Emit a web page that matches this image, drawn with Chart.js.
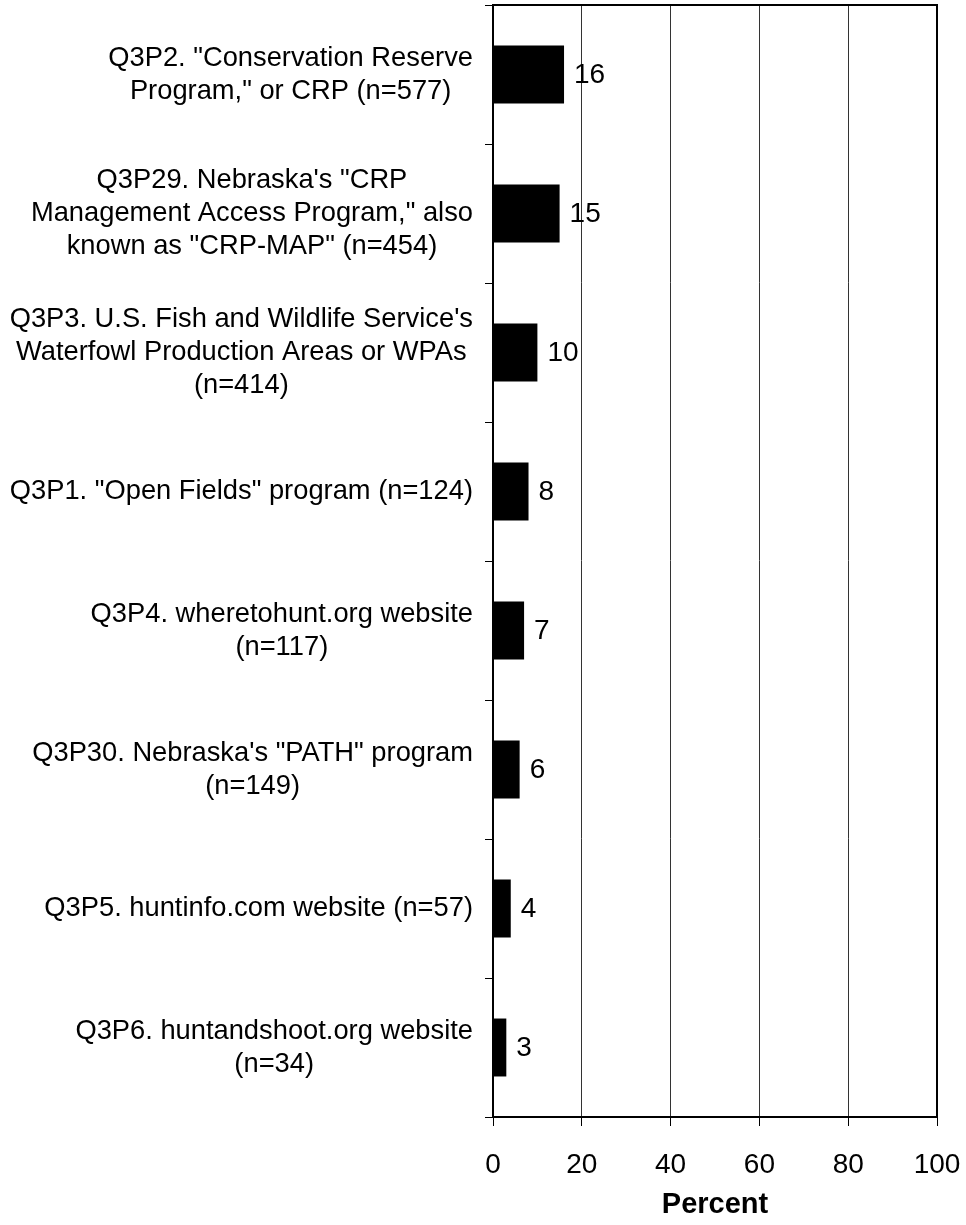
<!DOCTYPE html>
<html>
<head>
<meta charset="utf-8">
<script src="https://cdn.jsdelivr.net/npm/chart.js@4.4.0/dist/chart.umd.min.js"></script>
<style>
  body { margin: 0; background: #fff; }
  canvas { display: block; }
</style>
</head>
<body>
<canvas id="myChart" width="966" height="1225"></canvas>
<script>
// categorias (cada linea es un renglon de la etiqueta)
const categories = [
  ['Q3P2. "Conservation Reserve', 'Program," or CRP (n=577)'],
  ['Q3P29. Nebraska\'s "CRP', 'Management Access Program," also', 'known as "CRP-MAP" (n=454)'],
  ["Q3P3. U.S. Fish and Wildlife Service's", 'Waterfowl Production Areas or WPAs', '(n=414)'],
  ['Q3P1. "Open Fields" program (n=124)'],
  ['Q3P4. wheretohunt.org website', '(n=117)'],
  ['Q3P30. Nebraska\'s "PATH" program', '(n=149)'],
  ['Q3P5. huntinfo.com website (n=57)'],
  ['Q3P6. huntandshoot.org website', '(n=34)'],
];
const percents = [16, 15, 10, 8, 7, 6, 4, 3];
const xTicks = [0, 20, 40, 60, 80, 100];
const axisTitle = "Percent";

const fontFamily = "'Liberation Sans', Arial, sans-serif";

// etiquetas del eje y, centradas renglon por renglon
const categoryLabels = {
  id: "categoryLabels",
  afterDraw(chart) {
    const ctx = chart.ctx;
    const yScale = chart.scales.y;
    const right = chart.chartArea.left - 20;
    const lineH = 33;
    ctx.save();
    ctx.font = "27.3px " + fontFamily;
    ctx.fillStyle = "#000";
    ctx.textAlign = "center";
    ctx.textBaseline = "middle";
    categories.forEach((lines, i) => {
      const y = yScale.getPixelForValue(i);
      const w = Math.max(...lines.map((l) => ctx.measureText(l).width));
      const cx = right - w / 2;
      lines.forEach((l, j) => {
        ctx.fillText(l, cx, y + (j - (lines.length - 1) / 2) * lineH);
      });
    });
    ctx.restore();
  },
};

// valores al lado de cada barra
const valueLabels = {
  id: "valueLabels",
  afterDatasetsDraw(chart) {
    const ctx = chart.ctx;
    const meta = chart.getDatasetMeta(0);
    ctx.save();
    ctx.font = "28px " + fontFamily;
    ctx.fillStyle = "#000";
    ctx.textAlign = "left";
    ctx.textBaseline = "middle";
    meta.data.forEach((bar, i) => {
      ctx.fillText(String(percents[i]), bar.x + 10, bar.y + 1);
    });
    ctx.restore();
  },
};

// marco completo del area del grafico
const frame = {
  id: "frame",
  afterDraw(chart) {
    const { left, right, top, bottom } = chart.chartArea;
    const ctx = chart.ctx;
    ctx.save();
    ctx.strokeStyle = "#000";
    ctx.lineWidth = 2;
    ctx.strokeRect(left, top, right - left, bottom - top);
    ctx.restore();
  },
};

const config = {
  type: "bar",
  data: {
    labels: categories,
    datasets: [
      {
        data: percents,
        backgroundColor: "#000",
        borderWidth: 0,
        barPercentage: 0.417,
        categoryPercentage: 1,
      },
    ],
  },
  options: {
    indexAxis: "y",
    responsive: false,
    animation: false,
    layout: { padding: { top: 5, right: 29, left: 0, bottom: 0 } },
    plugins: {
      legend: { display: false },
      tooltip: { enabled: false },
    },
    scales: {
      x: {
        min: 0,
        max: 100,
        afterBuildTicks: (s) => {
          s.ticks = xTicks.map((v) => ({ value: v }));
        },
        afterFit: (s) => {
          s.height = 108;
          s.paddingLeft = 0;
          s.paddingRight = 0;
        },
        grid: {
          color: "#333",
          lineWidth: 1,
          tickLength: 9,
          tickColor: "#000",
        },
        border: { color: "#000", width: 2 },
        ticks: {
          color: "#000",
          padding: 22,
          font: { family: fontFamily, size: 28 },
        },
        title: {
          display: true,
          text: axisTitle,
          color: "#000",
          padding: { top: 0, bottom: 3 },
          font: { family: fontFamily, size: 29, weight: "bold" },
        },
      },
      y: {
        afterFit: (s) => {
          s.width = 493;
        },
        grid: {
          offset: true,
          drawOnChartArea: false,
          tickLength: 8,
          tickColor: "#000",
          lineWidth: 1,
        },
        border: { color: "#000", width: 2 },
        ticks: { display: false },
      },
    },
  },
  plugins: [categoryLabels, valueLabels, frame],
};

const ctx = document.getElementById("myChart").getContext("2d");
new Chart(ctx, config);
</script>
</body>
</html>
